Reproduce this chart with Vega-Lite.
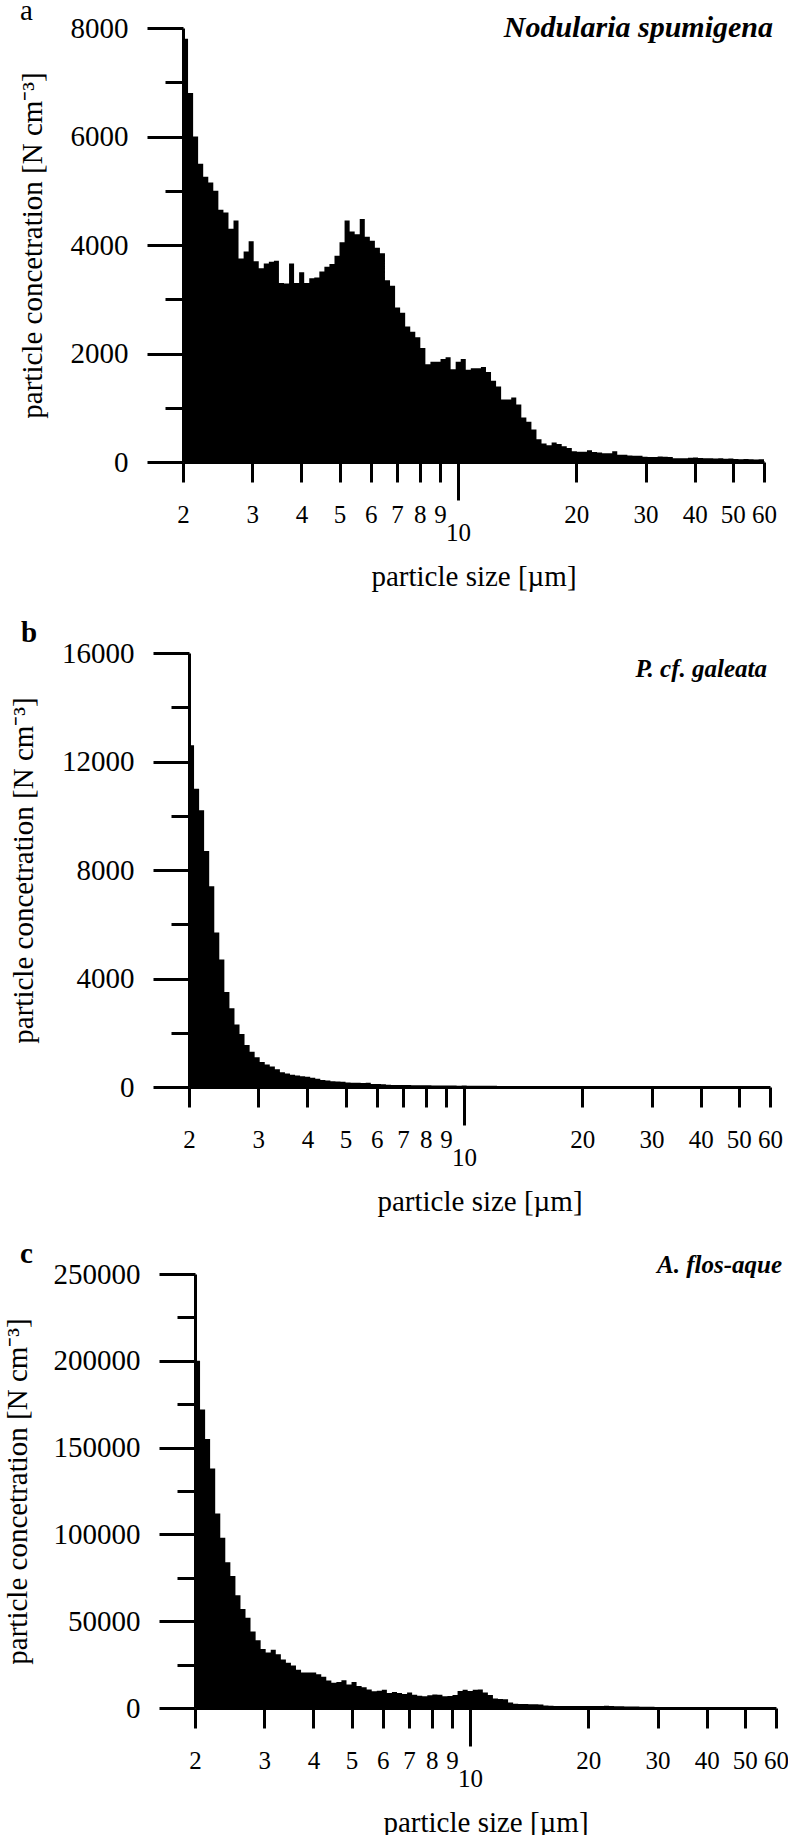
{
  "$schema": "https://vega.github.io/schema/vega-lite/v6.json",
  "background": "white",
  "padding": {"left": 3, "top": -3, "right": 0, "bottom": 0},
  "config": {
    "view": {"stroke": null},
    "font": "Liberation Serif",
    "axis": {"grid": false, "domainColor": "black", "domainWidth": 3, "tickColor": "black", "tickWidth": 3, "labelColor": "black", "titleColor": "black", "labelFont": "Liberation Serif", "titleFont": "Liberation Serif", "titleFontWeight": "normal"}
  },
  "bounds": "flush",
  "spacing": 191,
  "vconcat": [
    {
      "width": 581,
      "height": 434,
      "layer": [
        {
          "data": {"values": [
            {"size": 2, "conc": 7800}, {"size": 2.06, "conc": 6800}, {"size": 2.122, "conc": 6000}, {"size": 2.185, "conc": 5500}, {"size": 2.251, "conc": 5260}, {"size": 2.319, "conc": 5150}, {"size": 2.388, "conc": 5000}, {"size": 2.46, "conc": 4650}, {"size": 2.534, "conc": 4600}, {"size": 2.61, "conc": 4300},
            {"size": 2.688, "conc": 4450}, {"size": 2.768, "conc": 3750}, {"size": 2.852, "conc": 3880}, {"size": 2.937, "conc": 4070}, {"size": 3.025, "conc": 3700}, {"size": 3.116, "conc": 3570}, {"size": 3.209, "conc": 3660}, {"size": 3.306, "conc": 3690}, {"size": 3.405, "conc": 3710}, {"size": 3.507, "conc": 3300},
            {"size": 3.612, "conc": 3290}, {"size": 3.721, "conc": 3660}, {"size": 3.832, "conc": 3300}, {"size": 3.947, "conc": 3500}, {"size": 4.066, "conc": 3300}, {"size": 4.188, "conc": 3385}, {"size": 4.313, "conc": 3400}, {"size": 4.443, "conc": 3510}, {"size": 4.576, "conc": 3600}, {"size": 4.713, "conc": 3650},
            {"size": 4.855, "conc": 3800}, {"size": 5.0, "conc": 4050}, {"size": 5.15, "conc": 4450}, {"size": 5.305, "conc": 4250}, {"size": 5.464, "conc": 4200}, {"size": 5.628, "conc": 4480}, {"size": 5.797, "conc": 4150}, {"size": 5.971, "conc": 4080}, {"size": 6.15, "conc": 3950}, {"size": 6.334, "conc": 3850},
            {"size": 6.524, "conc": 3350}, {"size": 6.72, "conc": 3250}, {"size": 6.922, "conc": 2850}, {"size": 7.129, "conc": 2750}, {"size": 7.343, "conc": 2500}, {"size": 7.564, "conc": 2400}, {"size": 7.791, "conc": 2300}, {"size": 8.024, "conc": 2100}, {"size": 8.265, "conc": 1800}, {"size": 8.513, "conc": 1850},
            {"size": 8.768, "conc": 1850}, {"size": 9.031, "conc": 1900}, {"size": 9.302, "conc": 1930}, {"size": 9.581, "conc": 1710}, {"size": 9.869, "conc": 1850}, {"size": 10.165, "conc": 1900}, {"size": 10.47, "conc": 1700}, {"size": 10.784, "conc": 1730}, {"size": 11.108, "conc": 1730}, {"size": 11.441, "conc": 1750},
            {"size": 11.784, "conc": 1660}, {"size": 12.138, "conc": 1500}, {"size": 12.502, "conc": 1390}, {"size": 12.877, "conc": 1150}, {"size": 13.263, "conc": 1150}, {"size": 13.661, "conc": 1190}, {"size": 14.071, "conc": 1060}, {"size": 14.493, "conc": 820}, {"size": 14.928, "conc": 740}, {"size": 15.376, "conc": 600},
            {"size": 15.837, "conc": 420}, {"size": 16.312, "conc": 340}, {"size": 16.802, "conc": 310}, {"size": 17.306, "conc": 360}, {"size": 17.825, "conc": 330}, {"size": 18.36, "conc": 290}, {"size": 18.91, "conc": 260}, {"size": 19.478, "conc": 200}, {"size": 20.062, "conc": 190}, {"size": 20.664, "conc": 190},
            {"size": 21.284, "conc": 215}, {"size": 21.922, "conc": 185}, {"size": 22.58, "conc": 175}, {"size": 23.257, "conc": 160}, {"size": 23.955, "conc": 160}, {"size": 24.674, "conc": 200}, {"size": 25.414, "conc": 135}, {"size": 26.177, "conc": 135}, {"size": 26.962, "conc": 120}, {"size": 27.771, "conc": 115},
            {"size": 28.604, "conc": 115}, {"size": 29.462, "conc": 95}, {"size": 30.346, "conc": 92}, {"size": 31.256, "conc": 92}, {"size": 32.194, "conc": 100}, {"size": 33.16, "conc": 98}, {"size": 34.155, "conc": 90}, {"size": 35.179, "conc": 68}, {"size": 36.235, "conc": 70}, {"size": 37.322, "conc": 68},
            {"size": 38.441, "conc": 80}, {"size": 39.595, "conc": 85}, {"size": 40.782, "conc": 75}, {"size": 42.006, "conc": 68}, {"size": 43.266, "conc": 70}, {"size": 44.564, "conc": 65}, {"size": 45.901, "conc": 70}, {"size": 47.278, "conc": 60}, {"size": 48.697, "conc": 65}, {"size": 50.157, "conc": 55},
            {"size": 51.662, "conc": 50}, {"size": 53.212, "conc": 55}, {"size": 54.808, "conc": 50}, {"size": 56.453, "conc": 45}, {"size": 58.146, "conc": 50}, {"size": 60, "conc": 45}
          ]},
          "mark": {"type": "area", "interpolate": "step-after", "color": "black"},
          "encoding": {
            "x": {"field": "size", "type": "quantitative",
              "scale": {"type": "log", "domain": [2, 60], "nice": false},
              "axis": {"title": "particle size [µm]", "titleFontSize": 29, "titlePadding": 20, "minExtent": 80, "maxExtent": 80, "values": [2, 3, 4, 5, 6, 7, 8, 9, 10, 20, 30, 40, 50, 60], "format": "d", "labelFontSize": 25, "labelFlush": false, "labelOverlap": false, "labelPadding": 20, "tickSize": {"condition": {"test": "datum.value === 10", "value": 38}, "value": 20}}},
            "y": {"field": "conc", "type": "quantitative",
              "scale": {"domain": [0, 8000], "nice": false},
              "axis": {"title": "particle concetration [N cm⁻³]", "titleFontSize": 29, "titlePadding": 36, "minExtent": 100, "maxExtent": 100, "values": [0, 1000, 2000, 3000, 4000, 5000, 6000, 7000, 8000], "format": "d", "labelExpr": "datum.value % 2000 === 0 ? datum.label : ''", "labelFontSize": 29, "labelPadding": 19, "tickSize": {"condition": {"test": "datum.value % 2000 === 0", "value": 36}, "value": 18}}}
          }
        },
        {
          "data": {"values": [{"label": "a"}]},
          "mark": {"type": "text", "align": "left", "baseline": "alphabetic", "dx": -163, "dy": -8, "fontSize": 29, "font": "Liberation Serif", "color": "black"},
          "encoding": {"x": {"datum": 2}, "y": {"datum": 8000}, "text": {"field": "label"}}
        },
        {
          "data": {"values": [{"label": "Nodularia spumigena"}]},
          "mark": {"type": "text", "align": "right", "baseline": "alphabetic", "dx": 9, "dy": 9, "fontSize": 30, "fontStyle": "italic", "fontWeight": "bold", "font": "Liberation Serif", "color": "black"},
          "encoding": {"x": {"datum": 60}, "y": {"datum": 8000}, "text": {"field": "label"}}
        }
      ]
    },
    {
      "bounds": "flush",
      "spacing": 187,
      "vconcat": [
        {
          "width": 587,
          "height": 434,
          "layer": [
            {
              "data": {"values": [
                {"size": 2, "conc": 12600}, {"size": 2.06, "conc": 11000}, {"size": 2.122, "conc": 10200}, {"size": 2.185, "conc": 8700}, {"size": 2.251, "conc": 7400}, {"size": 2.319, "conc": 5700}, {"size": 2.388, "conc": 4700}, {"size": 2.46, "conc": 3500}, {"size": 2.534, "conc": 2900}, {"size": 2.61, "conc": 2300},
                {"size": 2.688, "conc": 1950}, {"size": 2.768, "conc": 1550}, {"size": 2.852, "conc": 1300}, {"size": 2.937, "conc": 1100}, {"size": 3.025, "conc": 920}, {"size": 3.116, "conc": 830}, {"size": 3.209, "conc": 760}, {"size": 3.306, "conc": 650}, {"size": 3.405, "conc": 540}, {"size": 3.507, "conc": 495},
                {"size": 3.612, "conc": 450}, {"size": 3.721, "conc": 420}, {"size": 3.832, "conc": 395}, {"size": 3.947, "conc": 375}, {"size": 4.066, "conc": 340}, {"size": 4.188, "conc": 300}, {"size": 4.313, "conc": 260}, {"size": 4.443, "conc": 240}, {"size": 4.576, "conc": 215}, {"size": 4.713, "conc": 205},
                {"size": 4.855, "conc": 190}, {"size": 5.0, "conc": 165}, {"size": 5.15, "conc": 160}, {"size": 5.305, "conc": 155}, {"size": 5.464, "conc": 145}, {"size": 5.628, "conc": 160}, {"size": 5.797, "conc": 115}, {"size": 5.971, "conc": 110}, {"size": 6.15, "conc": 100}, {"size": 6.334, "conc": 85},
                {"size": 6.524, "conc": 78}, {"size": 6.72, "conc": 75}, {"size": 6.922, "conc": 72}, {"size": 7.129, "conc": 74}, {"size": 7.343, "conc": 66}, {"size": 7.564, "conc": 65}, {"size": 7.791, "conc": 63}, {"size": 8.024, "conc": 62}, {"size": 8.265, "conc": 57}, {"size": 8.513, "conc": 58},
                {"size": 8.768, "conc": 55}, {"size": 9.031, "conc": 56}, {"size": 9.302, "conc": 52}, {"size": 9.581, "conc": 50}, {"size": 9.869, "conc": 51}, {"size": 10.165, "conc": 48}, {"size": 10.47, "conc": 45}, {"size": 10.784, "conc": 46}, {"size": 11.108, "conc": 44}, {"size": 11.441, "conc": 43},
                {"size": 11.784, "conc": 42}, {"size": 12.138, "conc": 41}, {"size": 12.502, "conc": 40}, {"size": 12.877, "conc": 41}, {"size": 13.263, "conc": 38}, {"size": 13.661, "conc": 38}, {"size": 14.071, "conc": 37}, {"size": 14.493, "conc": 36}, {"size": 14.928, "conc": 35}, {"size": 15.376, "conc": 35},
                {"size": 15.837, "conc": 34}, {"size": 16.312, "conc": 33}, {"size": 16.802, "conc": 33}, {"size": 17.306, "conc": 32}, {"size": 17.825, "conc": 31}, {"size": 18.36, "conc": 30}, {"size": 18.91, "conc": 30}, {"size": 19.478, "conc": 29}, {"size": 20.062, "conc": 30}, {"size": 20.664, "conc": 28},
                {"size": 21.284, "conc": 28}, {"size": 21.922, "conc": 27}, {"size": 22.58, "conc": 27}, {"size": 23.257, "conc": 26}, {"size": 23.955, "conc": 26}, {"size": 24.674, "conc": 25}, {"size": 25.414, "conc": 25}, {"size": 26.177, "conc": 24}, {"size": 26.962, "conc": 24}, {"size": 27.771, "conc": 23},
                {"size": 28.604, "conc": 23}, {"size": 29.462, "conc": 22}, {"size": 30.346, "conc": 22}, {"size": 31.256, "conc": 21}, {"size": 32.194, "conc": 21}, {"size": 33.16, "conc": 20}, {"size": 34.155, "conc": 20}, {"size": 35.179, "conc": 19}, {"size": 36.235, "conc": 19}, {"size": 37.322, "conc": 18},
                {"size": 38.441, "conc": 18}, {"size": 39.595, "conc": 18}, {"size": 40.782, "conc": 17}, {"size": 42.006, "conc": 17}, {"size": 43.266, "conc": 16}, {"size": 44.564, "conc": 16}, {"size": 45.901, "conc": 16}, {"size": 47.278, "conc": 15}, {"size": 48.697, "conc": 15}, {"size": 50.157, "conc": 15},
                {"size": 51.662, "conc": 14}, {"size": 53.212, "conc": 14}, {"size": 54.808, "conc": 14}, {"size": 56.453, "conc": 13}, {"size": 58.146, "conc": 13}, {"size": 60, "conc": 13}
              ]},
              "mark": {"type": "area", "interpolate": "step-after", "color": "black"},
              "encoding": {
                "x": {"field": "size", "type": "quantitative",
                  "scale": {"type": "log", "domain": [2, 60], "range": [6, 587], "nice": false},
                  "axis": {"title": "particle size [µm]", "titleFontSize": 29, "titlePadding": 20, "minExtent": 80, "maxExtent": 80, "values": [2, 3, 4, 5, 6, 7, 8, 9, 10, 20, 30, 40, 50, 60], "format": "d", "labelFontSize": 25, "labelFlush": false, "labelOverlap": false, "labelPadding": 20, "tickSize": {"condition": {"test": "datum.value === 10", "value": 38}, "value": 20}}},
                "y": {"field": "conc", "type": "quantitative",
                  "scale": {"domain": [0, 16000], "nice": false},
                  "axis": {"offset": -6, "title": "particle concetration [N cm⁻³]", "titleFontSize": 29, "titlePadding": 51, "minExtent": 100, "maxExtent": 100, "values": [0, 2000, 4000, 6000, 8000, 10000, 12000, 14000, 16000], "format": "d", "labelExpr": "datum.value % 4000 === 0 ? datum.label : ''", "labelFontSize": 29, "labelPadding": 19, "tickSize": {"condition": {"test": "datum.value % 4000 === 0", "value": 36}, "value": 18}}}
              }
            },
            {
              "data": {"values": [{"label": "b"}]},
              "mark": {"type": "text", "align": "left", "baseline": "alphabetic", "dx": -168, "dy": -11, "fontSize": 29, "fontWeight": "bold", "font": "Liberation Serif", "color": "black"},
              "encoding": {"x": {"datum": 2}, "y": {"datum": 16000}, "text": {"field": "label"}}
            },
            {
              "data": {"values": [{"label": "P. cf. galeata"}]},
              "mark": {"type": "text", "align": "right", "baseline": "alphabetic", "dx": -3, "dy": 24, "fontSize": 25, "fontStyle": "italic", "fontWeight": "bold", "font": "Liberation Serif", "color": "black"},
              "encoding": {"x": {"datum": 60}, "y": {"datum": 16000}, "text": {"field": "label"}}
            }
          ]
        },
        {
          "width": 593,
          "height": 434,
          "layer": [
            {
              "data": {"values": [
                {"size": 2, "conc": 200000}, {"size": 2.06, "conc": 172000}, {"size": 2.122, "conc": 155000}, {"size": 2.185, "conc": 138000}, {"size": 2.251, "conc": 112000}, {"size": 2.319, "conc": 98000}, {"size": 2.388, "conc": 84000}, {"size": 2.46, "conc": 76000}, {"size": 2.534, "conc": 65000}, {"size": 2.61, "conc": 57000},
                {"size": 2.688, "conc": 52000}, {"size": 2.768, "conc": 44000}, {"size": 2.852, "conc": 39000}, {"size": 2.937, "conc": 34000}, {"size": 3.025, "conc": 32000}, {"size": 3.116, "conc": 33500}, {"size": 3.209, "conc": 31000}, {"size": 3.306, "conc": 28000}, {"size": 3.405, "conc": 26000}, {"size": 3.507, "conc": 24500},
                {"size": 3.612, "conc": 22000}, {"size": 3.721, "conc": 20500}, {"size": 3.832, "conc": 20500}, {"size": 3.947, "conc": 20500}, {"size": 4.066, "conc": 19500}, {"size": 4.188, "conc": 18000}, {"size": 4.313, "conc": 15800}, {"size": 4.443, "conc": 14500}, {"size": 4.576, "conc": 15000}, {"size": 4.713, "conc": 16000},
                {"size": 4.855, "conc": 13500}, {"size": 5.0, "conc": 15000}, {"size": 5.15, "conc": 12700}, {"size": 5.305, "conc": 12000}, {"size": 5.464, "conc": 10700}, {"size": 5.628, "conc": 9700}, {"size": 5.797, "conc": 10000}, {"size": 5.971, "conc": 10500}, {"size": 6.15, "conc": 8700}, {"size": 6.334, "conc": 9200},
                {"size": 6.524, "conc": 8600}, {"size": 6.72, "conc": 8100}, {"size": 6.922, "conc": 8900}, {"size": 7.129, "conc": 7700}, {"size": 7.343, "conc": 7000}, {"size": 7.564, "conc": 6800}, {"size": 7.791, "conc": 7300}, {"size": 8.024, "conc": 7800}, {"size": 8.265, "conc": 7700}, {"size": 8.513, "conc": 6700},
                {"size": 8.768, "conc": 6900}, {"size": 9.031, "conc": 7500}, {"size": 9.302, "conc": 9800}, {"size": 9.581, "conc": 10500}, {"size": 9.869, "conc": 9800}, {"size": 10.165, "conc": 10500}, {"size": 10.47, "conc": 10600}, {"size": 10.784, "conc": 9000}, {"size": 11.108, "conc": 7500}, {"size": 11.441, "conc": 5500},
                {"size": 11.784, "conc": 5200}, {"size": 12.138, "conc": 5000}, {"size": 12.502, "conc": 3200}, {"size": 12.877, "conc": 2400}, {"size": 13.263, "conc": 2300}, {"size": 13.661, "conc": 2300}, {"size": 14.071, "conc": 2200}, {"size": 14.493, "conc": 2200}, {"size": 14.928, "conc": 2000}, {"size": 15.376, "conc": 1500},
                {"size": 15.837, "conc": 1350}, {"size": 16.312, "conc": 1200}, {"size": 16.802, "conc": 1150}, {"size": 17.306, "conc": 1150}, {"size": 17.825, "conc": 1100}, {"size": 18.36, "conc": 1150}, {"size": 18.91, "conc": 1100}, {"size": 19.478, "conc": 1100}, {"size": 20.062, "conc": 1150}, {"size": 20.664, "conc": 1100},
                {"size": 21.284, "conc": 1200}, {"size": 21.922, "conc": 1250}, {"size": 22.58, "conc": 1100}, {"size": 23.257, "conc": 1000}, {"size": 23.955, "conc": 1000}, {"size": 24.674, "conc": 900}, {"size": 25.414, "conc": 800}, {"size": 26.177, "conc": 800}, {"size": 26.962, "conc": 750}, {"size": 27.771, "conc": 700},
                {"size": 28.604, "conc": 650}, {"size": 29.462, "conc": 600}, {"size": 30.346, "conc": 550}, {"size": 31.256, "conc": 500}, {"size": 32.194, "conc": 500}, {"size": 33.16, "conc": 450}, {"size": 34.155, "conc": 450}, {"size": 35.179, "conc": 450}, {"size": 36.235, "conc": 420}, {"size": 37.322, "conc": 400},
                {"size": 38.441, "conc": 400}, {"size": 39.595, "conc": 380}, {"size": 40.782, "conc": 380}, {"size": 42.006, "conc": 400}, {"size": 43.266, "conc": 380}, {"size": 44.564, "conc": 350}, {"size": 45.901, "conc": 350}, {"size": 47.278, "conc": 330}, {"size": 48.697, "conc": 330}, {"size": 50.157, "conc": 320},
                {"size": 51.662, "conc": 300}, {"size": 53.212, "conc": 300}, {"size": 54.808, "conc": 300}, {"size": 56.453, "conc": 280}, {"size": 58.146, "conc": 280}, {"size": 60, "conc": 280}
              ]},
              "mark": {"type": "area", "interpolate": "step-after", "color": "black"},
              "encoding": {
                "x": {"field": "size", "type": "quantitative",
                  "scale": {"type": "log", "domain": [2, 60], "range": [12, 593], "nice": false},
                  "axis": {"title": "particle size [µm]", "titleFontSize": 29, "titlePadding": 20, "minExtent": 80, "maxExtent": 80, "values": [2, 3, 4, 5, 6, 7, 8, 9, 10, 20, 30, 40, 50, 60], "format": "d", "labelFontSize": 25, "labelFlush": false, "labelOverlap": false, "labelPadding": 20, "tickSize": {"condition": {"test": "datum.value === 10", "value": 38}, "value": 20}}},
                "y": {"field": "conc", "type": "quantitative",
                  "scale": {"domain": [0, 250000], "nice": false},
                  "axis": {"offset": -12, "title": "particle concetration [N cm⁻³]", "titleFontSize": 29, "titlePadding": 63, "minExtent": 100, "maxExtent": 100, "values": [0, 25000, 50000, 75000, 100000, 125000, 150000, 175000, 200000, 225000, 250000], "format": "d", "labelExpr": "datum.value % 50000 === 0 ? datum.label : ''", "labelFontSize": 29, "labelPadding": 19, "tickSize": {"condition": {"test": "datum.value % 50000 === 0", "value": 36}, "value": 18}}}
              }
            },
            {
              "data": {"values": [{"label": "c"}]},
              "mark": {"type": "text", "align": "left", "baseline": "alphabetic", "dx": -175, "dy": -11, "fontSize": 29, "fontWeight": "bold", "font": "Liberation Serif", "color": "black"},
              "encoding": {"x": {"datum": 2}, "y": {"datum": 250000}, "text": {"field": "label"}}
            },
            {
              "data": {"values": [{"label": "A. flos-aque"}]},
              "mark": {"type": "text", "align": "right", "baseline": "alphabetic", "dx": 6, "dy": -1, "fontSize": 25, "fontStyle": "italic", "fontWeight": "bold", "font": "Liberation Serif", "color": "black"},
              "encoding": {"x": {"datum": 60}, "y": {"datum": 250000}, "text": {"field": "label"}}
            }
          ]
        }
      ]
    }
  ]
}
